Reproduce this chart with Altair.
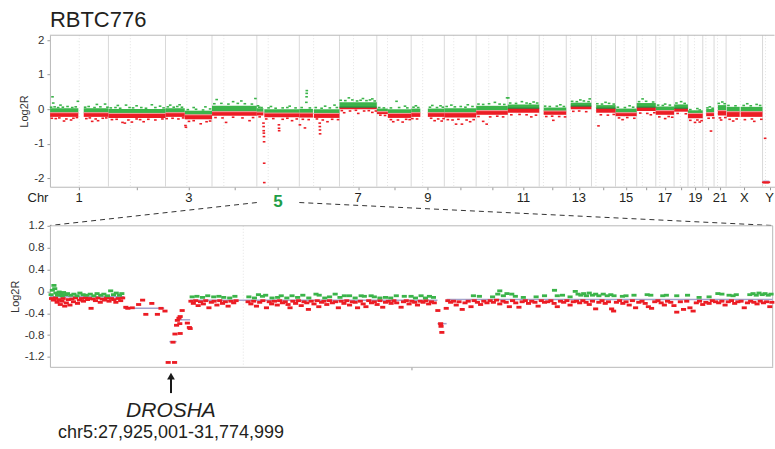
import altair as alt
import pandas as pd

FONT = "Liberation Sans"
GREEN = "#3bb44a"
RED = "#ec1c24"
DARK = "#231f20"

# ---------------- genome layout (hg19, Mb) ----------------
chrom_names = ["1", "2", "3", "4", "5", "6", "7", "8", "9", "10", "11", "12",
               "13", "14", "15", "16", "17", "18", "19", "20", "21", "22", "X", "Y"]
chrom_len = [249.25, 243.20, 198.02, 191.15, 180.92, 171.12, 159.14, 146.36,
             141.21, 135.53, 135.01, 133.85, 115.17, 107.35, 102.53, 90.35,
             81.20, 78.08, 59.13, 63.03, 48.13, 51.30, 155.27, 59.37]
centromere = [125.0, 93.3, 91.0, 50.4, 48.4, 61.0, 59.9, 45.6, 49.0, 40.2,
              53.7, 35.8, 17.9, 17.6, 19.0, 36.6, 24.0, 17.2, 26.5, 27.5,
              13.2, 14.7, 60.6, 12.5]

# axis labels and the chromosome at whose centre each one sits (as drawn in the reference)
label_text = ["1", "3", "5", "7", "9", "11", "13", "15", "17", "19", "21", "X", "Y"]
label_at = ["1", "3", "5", "7", "9", "12", "14", "16", "18", "20", "22", "X", "Y"]

# ---------------- genome-wide segments: (chrom, start, end, mean, dense-band top, dense-band bottom) ----------------
top_segments = [
    ("1", 0.8, 121, -0.10, 0.03, -0.22), ("1", 144, 249, -0.10, 0.03, -0.22),
    ("2", 0.1, 243, -0.12, 0.01, -0.25),
    ("3", 0.1, 82, -0.10, 0.03, -0.22), ("3", 82, 198, -0.16, -0.04, -0.29),
    ("4", 0.1, 191, -0.07, 0.10, -0.19),
    ("5", 0.1, 27.9, -0.08, 0.03, -0.18), ("5", 31.8, 181, -0.11, 0.00, -0.23),
    ("6", 0.2, 58, -0.11, 0.01, -0.24), ("6", 62, 171, -0.12, 0.00, -0.25),
    ("7", 0.1, 159, 0.06, 0.20, 0.00),
    ("8", 0.2, 47, -0.07, 0.02, -0.14), ("8", 47, 146, -0.12, 0.00, -0.25),
    ("9", 0.2, 39, -0.10, 0.02, -0.22), ("9", 71, 141, -0.10, 0.02, -0.22),
    ("10", 0.1, 135.5, -0.10, 0.03, -0.24),
    ("11", 0.2, 135, -0.04, 0.10, -0.16),
    ("12", 0.1, 133.8, 0.03, 0.14, -0.10),
    ("13", 19, 115, -0.05, 0.05, -0.16),
    ("14", 19, 107, 0.09, 0.19, 0.00),
    ("15", 20, 102.5, 0.03, 0.12, -0.10),
    ("16", 0.1, 90.3, -0.10, 0.02, -0.20),
    ("17", 0.1, 81.2, 0.06, 0.18, -0.05),
    ("18", 0.1, 78, -0.04, 0.08, -0.16),
    ("19", 0.2, 59, 0.03, 0.14, -0.07),
    ("20", 0.1, 63, -0.12, -0.03, -0.26),
    ("21", 14.5, 48, -0.10, 0.01, -0.20),
    ("22", 16, 51.2, -0.04, 0.12, -0.18),
    ("X", 2.7, 58, -0.07, 0.07, -0.22), ("X", 62, 155, -0.07, 0.07, -0.22),
    ("Y", 2.7, 28.8, -2.08, -2.08, -2.14),
]

# scattered probes around / outside the dense bands: (chrom, pos, log2R)
top_gain_pts = [
    ("1", 11, 0.36), ("1", 14, 0.18), ("1", 45, 0.12), ("1", 119, 0.23), ("1", 200, 0.14), ("1", 235, 0.15),
    ("1", 5, 0.06), ("1", 20, 0.07), ("1", 35, 0.05), ("1", 55, 0.06), ("1", 75, 0.08), ("1", 95, 0.05),
    ("1", 110, 0.07), ("1", 150, 0.06), ("1", 165, 0.08), ("1", 190, 0.05), ("1", 215, 0.07), ("1", 245, 0.06),
    ("2", 40, 0.11), ("2", 75, 0.12), ("2", 120, 0.10), ("2", 185, 0.13), ("2", 220, 0.09),
    ("2", 10, 0.04), ("2", 30, 0.05), ("2", 50, 0.03), ("2", 90, 0.05), ("2", 105, 0.04), ("2", 140, 0.05),
    ("2", 160, 0.03), ("2", 200, 0.05), ("2", 235, 0.04),
    ("3", 20, 0.12), ("3", 60, 0.13), ("3", 120, 0.05), ("3", 170, 0.07),
    ("3", 10, 0.07), ("3", 35, 0.06), ("3", 50, 0.08), ("3", 70, 0.06), ("3", 95, -0.01), ("3", 130, 0.00),
    ("3", 160, -0.02), ("3", 190, 0.01),
    ("4", 20, 0.28), ("4", 90, 0.22), ("4", 125, 0.24), ("4", 185, 0.31),
    ("4", 10, 0.16), ("4", 40, 0.17), ("4", 70, 0.15), ("4", 110, 0.17), ("4", 140, 0.16), ("4", 170, 0.15),
    ("5", 5, 0.10), ("5", 60, 0.08), ("5", 140, 0.09),
    ("5", 10, 0.06), ("5", 20, 0.05), ("5", 50, 0.04), ("5", 80, 0.03), ("5", 110, 0.04), ("5", 130, 0.05),
    ("5", 165, 0.04),
    ("6", 30, 0.20), ("6", 31, 0.36), ("6", 31.5, 0.46), ("6", 32, 0.54), ("6", 110, 0.09), ("6", 150, 0.12),
    ("6", 10, 0.05), ("6", 45, 0.04), ("6", 70, 0.05), ("6", 95, 0.03), ("6", 130, 0.04), ("6", 160, 0.05),
    ("7", 40, 0.33), ("7", 100, 0.31), ("7", 140, 0.30),
    ("7", 5, 0.26), ("7", 25, 0.25), ("7", 55, 0.27), ("7", 75, 0.24), ("7", 90, 0.26), ("7", 115, 0.25),
    ("7", 130, 0.27), ("7", 150, 0.24),
    ("8", 84, 0.23), ("8", 120, 0.09),
    ("8", 10, 0.05), ("8", 30, 0.04), ("8", 60, 0.04), ("8", 95, 0.05), ("8", 130, 0.04),
    ("9", 20, 0.10), ("9", 90, 0.11), ("9", 125, 0.10),
    ("9", 10, 0.06), ("9", 30, 0.05), ("9", 80, 0.06), ("9", 110, 0.05), ("9", 135, 0.06),
    ("10", 30, 0.12), ("10", 100, 0.13),
    ("10", 10, 0.08), ("10", 45, 0.07), ("10", 70, 0.08), ("10", 90, 0.06), ("10", 120, 0.08),
    ("11", 80, 0.20), ("11", 132, 0.33),
    ("11", 10, 0.15), ("11", 30, 0.14), ("11", 55, 0.16), ("11", 100, 0.15), ("11", 120, 0.14),
    ("12", 2, 0.33), ("12", 60, 0.22), ("12", 110, 0.21),
    ("12", 10, 0.18), ("12", 35, 0.17), ("12", 80, 0.18), ("12", 95, 0.16), ("12", 125, 0.18),
    ("13", 90, 0.13), ("13", 25, 0.09), ("13", 45, 0.08), ("13", 75, 0.09), ("13", 105, 0.08),
    ("14", 60, 0.27), ("14", 100, 0.30), ("14", 25, 0.23), ("14", 45, 0.22), ("14", 75, 0.24), ("14", 95, 0.22),
    ("15", 60, 0.20), ("15", 25, 0.16), ("15", 45, 0.15), ("15", 75, 0.17), ("15", 95, 0.15),
    ("16", 60, 0.10), ("16", 10, 0.06), ("16", 40, 0.05), ("16", 75, 0.06),
    ("17", 25, 0.30), ("17", 10, 0.22), ("17", 40, 0.23), ("17", 70, 0.21),
    ("18", 40, 0.15), ("18", 10, 0.12), ("18", 30, 0.11), ("18", 60, 0.12),
    ("19", 30, 0.22), ("19", 10, 0.18), ("19", 45, 0.17),
    ("20", 40, 0.02), ("20", 10, -0.01), ("20", 50, -0.02),
    ("21", 30, 0.07), ("21", 20, 0.04), ("21", 42, 0.03),
    ("22", 35, 0.21), ("22", 20, 0.17), ("22", 45, 0.16),
    ("X", 90, 0.16), ("X", 130, 0.14), ("X", 10, 0.11), ("X", 40, 0.10), ("X", 75, 0.11), ("X", 105, 0.10),
    ("X", 145, 0.11),
]
top_loss_pts = [
    ("1", 60, -0.34), ("1", 90, -0.31), ("1", 180, -0.35), ("1", 205, -0.33),
    ("1", 8, -0.26), ("1", 25, -0.27), ("1", 40, -0.25), ("1", 70, -0.28), ("1", 100, -0.26), ("1", 115, -0.24),
    ("1", 155, -0.27), ("1", 170, -0.25), ("1", 195, -0.28), ("1", 225, -0.26), ("1", 240, -0.25),
    ("2", 60, -0.38), ("2", 70, -0.40), ("2", 100, -0.37), ("2", 150, -0.36),
    ("2", 15, -0.30), ("2", 35, -0.29), ("2", 85, -0.31), ("2", 120, -0.28), ("2", 135, -0.30),
    ("2", 170, -0.29), ("2", 200, -0.31), ("2", 230, -0.28),
    ("3", 85, -0.47), ("3", 87, -0.52), ("3", 150, -0.42),
    ("3", 5, -0.27), ("3", 30, -0.26), ("3", 55, -0.28), ("3", 75, -0.25), ("3", 100, -0.35),
    ("3", 120, -0.33), ("3", 175, -0.36), ("3", 190, -0.34),
    ("4", 60, -0.38), ("4", 160, -0.33),
    ("4", 15, -0.24), ("4", 45, -0.25), ("4", 90, -0.23), ("4", 130, -0.25), ("4", 175, -0.24),
    ("5", 28.2, -0.40), ("5", 28.8, -0.50), ("5", 29.3, -0.62), ("5", 29.8, -0.69),
    ("5", 30.3, -0.79), ("5", 30.8, -0.94), ("5", 31.2, -1.56), ("5", 31.6, -2.12),
    ("5", 94, -0.45), ("5", 94.5, -0.55), ("5", 95, -0.62), ("5", 150, -0.33),
    ("5", 12, -0.22), ("5", 40, -0.28), ("5", 70, -0.27), ("5", 110, -0.29), ("5", 130, -0.26), ("5", 170, -0.28),
    ("6", 2.6, -0.45), ("6", 24, -0.54), ("6", 87, -0.40), ("6", 87.5, -0.50),
    ("6", 88, -0.60), ("6", 88.5, -0.71), ("6", 120, -0.36),
    ("6", 15, -0.29), ("6", 40, -0.30), ("6", 75, -0.28), ("6", 100, -0.31), ("6", 140, -0.29), ("6", 165, -0.30),
    ("7", 20, -0.10), ("7", 80, -0.12), ("7", 140, -0.09),
    ("7", 10, -0.04), ("7", 45, -0.05), ("7", 70, -0.03), ("7", 105, -0.05), ("7", 125, -0.04), ("7", 155, -0.05),
    ("8", 70, -0.36), ("8", 110, -0.37),
    ("8", 15, -0.17), ("8", 35, -0.18), ("8", 60, -0.30), ("8", 90, -0.31), ("8", 125, -0.29), ("8", 140, -0.30),
    ("9", 100, -0.33), ("9", 130, -0.34),
    ("9", 5, -0.27), ("9", 25, -0.28), ("9", 85, -0.26), ("9", 115, -0.28), ("9", 138, -0.27),
    ("10", 50, -0.43), ("10", 75, -0.43), ("10", 110, -0.36),
    ("10", 15, -0.30), ("10", 35, -0.31), ("10", 60, -0.29), ("10", 95, -0.31), ("10", 125, -0.30),
    ("11", 30, -0.35), ("11", 45, -0.43),
    ("11", 10, -0.21), ("11", 60, -0.22), ("11", 90, -0.20), ("11", 115, -0.22),
    ("12", 100, -0.22), ("12", 15, -0.16), ("12", 50, -0.15), ("12", 80, -0.16), ("12", 120, -0.17),
    ("13", 60, -0.32), ("13", 30, -0.21), ("13", 55, -0.20), ("13", 85, -0.21), ("13", 110, -0.22),
    ("14", 30, -0.06), ("14", 55, -0.05), ("14", 85, -0.07),
    ("15", 30, -0.48), ("15", 40, -0.16), ("15", 70, -0.17), ("15", 95, -0.15),
    ("16", 30, -0.30), ("16", 15, -0.25), ("16", 50, -0.24), ("16", 80, -0.26),
    ("17", 60, -0.16), ("17", 15, -0.11), ("17", 45, -0.12), ("17", 75, -0.10),
    ("18", 40, -0.27), ("18", 15, -0.22), ("18", 55, -0.21), ("18", 70, -0.23),
    ("19", 15, -0.12), ("19", 50, -0.13),
    ("20", 30, -0.38), ("20", 50, -0.37), ("20", 10, -0.32), ("20", 40, -0.31), ("20", 58, -0.33),
    ("21", 35, -0.63), ("21", 25, -0.26), ("21", 45, -0.25),
    ("22", 30, -0.31), ("22", 25, -0.25), ("22", 48, -0.24),
    ("X", 30, -0.34), ("X", 120, -0.35), ("X", 15, -0.29), ("X", 45, -0.28), ("X", 80, -0.30),
    ("X", 110, -0.28), ("X", 150, -0.29),
    ("Y", 11, -0.84), ("Y", 3, -2.11), ("Y", 7, -2.12), ("Y", 11, -2.11), ("Y", 15, -2.12),
    ("Y", 19, -2.11), ("Y", 23, -2.12), ("Y", 27, -2.11),
]

# ---------------- chromosome 5 detail ----------------
chr5_segments = [(0.0, 18.5, -0.10), (18.5, 28.6, -0.31), (29.9, 31.7, -0.92),
                 (31.7, 35.1, -0.52), (35.1, 97.0, -0.16), (97.0, 99.3, -0.59),
                 (99.3, 180.9, -0.15)]

chr5_gain = [
    (0.3, -0.06), (0.6, 0.02), (1.0, 0.11), (1.2, 0.05), (1.5, -0.03), (1.9, -0.07), (2.3, -0.01),
    (2.7, -0.05), (3.1, -0.08), (3.4, -0.02), (3.9, -0.06), (4.4, -0.04), (5.2, -0.07), (6.0, -0.05),
    (6.8, -0.08), (7.5, -0.03), (8.3, -0.06), (9.2, -0.07), (10.1, -0.05), (11.0, -0.08), (11.8, -0.04),
    (12.7, -0.07), (13.5, -0.05), (14.4, -0.08), (15.2, 0.01), (15.9, -0.06), (16.6, -0.03), (17.4, -0.07),
    (18.0, -0.04),
    (35.6, -0.10), (36.8, -0.09), (38.2, -0.11), (39.5, -0.08), (41.0, -0.10), (42.3, -0.09), (43.5, -0.11),
    (45.0, -0.12), (46.3, -0.09), (49.8, -0.10), (51.2, -0.12), (52.2, -0.06), (53.2, -0.09), (54.0, -0.07),
    (55.6, -0.12), (57.0, -0.11), (57.9, -0.08), (59.3, -0.12), (60.6, -0.08), (62.0, -0.11), (63.3, -0.07),
    (64.8, -0.12), (66.6, -0.05), (67.4, -0.07), (68.8, -0.12), (70.0, -0.10), (71.4, -0.05), (72.6, -0.11),
    (73.7, -0.08), (75.0, -0.08), (76.4, -0.12), (77.9, -0.08), (78.7, -0.09), (80.4, -0.08), (81.2, -0.10),
    (82.6, -0.12), (84.0, -0.11), (85.3, -0.12), (86.7, -0.08), (88.7, -0.09), (90.4, -0.09), (91.5, -0.12),
    (92.9, -0.08), (94.0, -0.12), (95.0, -0.09), (96.0, -0.11),
    (106.0, -0.08), (107.5, -0.09), (110.8, -0.10), (112.1, -0.05), (112.6, 0.01), (113.5, -0.08),
    (114.4, -0.04), (115.6, -0.05), (116.5, -0.09), (118.5, -0.11), (121.7, -0.10), (123.8, -0.08),
    (126.3, 0.02), (127.0, -0.08), (128.3, -0.07), (130.2, -0.10), (131.5, 0.00), (132.2, -0.05),
    (132.9, -0.07), (133.6, -0.04), (134.3, -0.08), (135.0, -0.03), (135.8, -0.07), (136.6, -0.05),
    (137.4, -0.08), (138.5, -0.05), (139.5, -0.08), (140.4, -0.06), (141.2, -0.08), (143.3, -0.09),
    (144.2, -0.08), (146.2, -0.07), (149.5, -0.06), (150.4, -0.07), (153.4, -0.08), (154.3, -0.07),
    (156.9, -0.08), (159.6, -0.07), (162.5, -0.11), (165.0, -0.10), (167.2, -0.04), (168.2, -0.05),
    (170.0, -0.07), (171.0, -0.08), (171.8, -0.06), (175.2, -0.06), (176.0, -0.04), (176.8, -0.07),
    (177.5, -0.03), (178.3, -0.06), (179.0, -0.04), (179.8, -0.07), (180.5, -0.05),
]

chr5_loss = [
    (0.4, -0.13), (0.9, -0.16), (1.4, -0.12), (1.8, -0.20), (2.2, -0.15), (2.6, -0.24), (3.0, -0.18),
    (3.3, -0.13), (3.7, -0.27), (4.1, -0.21), (4.6, -0.15), (5.0, -0.25), (5.5, -0.14), (5.9, -0.19),
    (6.4, -0.12), (6.9, -0.22), (7.4, -0.16), (7.9, -0.13), (8.4, -0.18), (8.9, -0.12), (9.4, -0.15),
    (9.9, -0.13), (10.3, -0.31), (10.8, -0.14), (11.4, -0.17), (12.0, -0.12), (12.6, -0.20), (13.1, -0.14),
    (13.7, -0.16), (14.2, -0.12), (14.8, -0.18), (15.4, -0.13), (16.0, -0.15), (16.5, -0.20), (17.1, -0.13),
    (17.7, -0.17), (18.2, -0.12),
    (19.0, -0.29), (19.5, -0.31), (20.6, -0.30), (22.2, -0.24), (23.2, -0.16), (24.0, -0.42), (25.5, -0.22),
    (26.9, -0.42), (27.8, -0.31), (28.8, -0.36),
    (29.6, -1.30), (31.2, -1.30), (30.8, -0.93), (31.3, -0.78), (32.6, -0.77), (31.7, -0.62), (32.5, -0.59),
    (31.9, -0.53), (32.3, -0.49), (32.6, -0.46), (33.1, -0.35), (34.4, -0.58), (34.9, -0.66), (35.1, -0.68),
    (35.3, -0.18), (35.9, -0.22), (36.5, -0.17), (37.1, -0.26), (37.7, -0.19), (38.4, -0.23), (39.0, -0.17),
    (39.8, -0.30), (40.4, -0.20), (41.1, -0.18), (41.8, -0.25), (42.5, -0.17), (43.2, -0.22), (43.9, -0.19),
    (44.6, -0.27), (45.3, -0.18), (46.0, -0.21), (46.6, -0.17),
    (49.6, -0.19), (50.3, -0.23), (51.0, -0.18), (51.7, -0.27), (52.5, -0.20), (53.3, -0.17), (54.2, -0.30),
    (54.9, -0.19), (55.5, -0.23), (56.2, -0.18), (56.9, -0.25), (57.5, -0.17), (58.2, -0.21), (58.9, -0.19),
    (59.6, -0.24), (60.1, -0.30), (60.8, -0.18), (61.5, -0.22), (62.2, -0.17), (62.9, -0.26), (63.6, -0.19),
    (64.3, -0.21), (64.7, -0.33), (65.4, -0.18), (66.1, -0.23), (66.9, -0.17), (67.3, -0.28), (68.0, -0.20),
    (68.6, -0.18), (69.3, -0.24), (70.0, -0.17), (70.7, -0.21), (71.5, -0.19), (72.2, -0.30), (72.9, -0.18),
    (73.6, -0.22), (74.3, -0.17), (75.0, -0.25), (75.7, -0.19), (76.4, -0.20), (77.0, -0.30), (77.7, -0.18),
    (78.4, -0.23), (79.1, -0.28), (79.8, -0.17), (80.5, -0.21), (81.2, -0.19), (81.9, -0.24), (82.6, -0.17),
    (83.3, -0.29), (84.0, -0.20), (84.7, -0.18), (85.4, -0.22), (86.1, -0.17), (86.8, -0.21), (87.9, -0.29),
    (88.5, -0.19), (89.2, -0.17), (89.9, -0.23), (90.6, -0.18), (91.3, -0.20), (92.0, -0.25), (92.7, -0.18),
    (93.4, -0.20), (94.1, -0.17), (94.8, -0.23), (95.5, -0.19), (96.2, -0.21),
    (97.1, -0.35), (97.8, -0.59), (97.9, -0.64), (98.1, -0.75), (99.2, -0.31),
    (99.6, -0.17), (100.3, -0.20), (101.0, -0.18), (101.7, -0.25), (102.4, -0.19), (103.2, -0.33),
    (103.9, -0.21), (104.7, -0.18), (105.4, -0.28), (106.2, -0.17), (107.0, -0.20), (107.8, -0.24),
    (108.6, -0.18), (109.4, -0.21), (110.2, -0.17), (111.0, -0.20), (111.8, -0.16), (112.6, -0.23),
    (113.4, -0.18), (114.2, -0.20), (115.0, -0.28), (115.8, -0.17), (116.6, -0.21), (117.4, -0.29),
    (118.2, -0.19), (119.0, -0.17), (119.8, -0.22), (120.6, -0.18), (121.4, -0.20), (122.2, -0.27),
    (123.0, -0.17), (123.8, -0.20), (124.6, -0.19), (125.4, -0.17), (126.2, -0.22), (127.0, -0.28),
    (127.8, -0.18), (128.6, -0.20), (129.4, -0.17), (130.2, -0.25), (131.0, -0.19), (131.8, -0.18),
    (132.6, -0.21), (133.4, -0.17), (134.2, -0.20), (135.0, -0.24), (135.8, -0.18), (136.6, -0.32),
    (137.4, -0.20), (138.2, -0.17), (139.0, -0.22), (139.8, -0.19), (140.6, -0.32), (141.1, -0.36),
    (141.8, -0.20), (142.6, -0.17), (143.4, -0.22), (144.2, -0.19), (145.0, -0.25), (145.8, -0.17),
    (146.6, -0.30), (147.4, -0.20), (148.2, -0.18), (149.0, -0.22), (149.8, -0.28), (150.6, -0.31),
    (151.4, -0.19), (152.2, -0.17), (153.0, -0.21), (153.8, -0.25), (154.6, -0.18), (155.4, -0.20),
    (156.2, -0.26), (156.9, -0.38), (157.8, -0.19), (158.6, -0.33), (159.4, -0.18), (160.2, -0.30),
    (161.0, -0.36), (161.8, -0.21), (162.6, -0.18), (163.4, -0.24), (164.2, -0.20), (165.0, -0.22),
    (165.8, -0.17), (166.6, -0.19), (167.4, -0.21), (168.2, -0.18), (169.0, -0.25), (169.8, -0.19),
    (170.6, -0.17), (171.4, -0.22), (172.2, -0.19), (173.0, -0.18), (173.8, -0.30), (174.6, -0.21),
    (175.4, -0.18), (176.2, -0.20), (177.0, -0.23), (177.8, -0.18), (178.6, -0.21), (179.4, -0.19),
    (180.2, -0.28), (180.7, -0.20),
]

sample_name = "RBTC776"
zoom_chrom = "5"
gene_name = "DROSHA"
gene_pos = 30.3
region_label = "chr5:27,925,001-31,774,999"

top_yticks = [-2, -1, 0, 1, 2]
bot_yticks = [-1.2, -0.8, -0.4, 0, 0.4, 0.8, 1.2]

# ---------------- sizes ----------------
W_T, H_T = 725.5, 151.7
W_B, H_B = 723.7, 141.2
SP = 38.8
X_MAX = 3087.2
Y_T = [-2.24, 2.14]
Y_B = [-1.38, 1.2]
FRAME = "#b8b8b8"
DASH_TOP = "M-1,-0.6L1,-0.6L1,0.6L-1,0.6Z"
DASH_BOT = "M-1,-0.55L1,-0.55L1,0.55L-1,0.55Z"

# ---------------- tables ----------------
offset = {}
acc = 0.0
for n, L in zip(chrom_names, chrom_len):
    offset[n] = acc
    acc += L

chrom_df = pd.DataFrame({
    "name": chrom_names,
    "start": [offset[n] for n in chrom_names],
    "end": [offset[n] + L for n, L in zip(chrom_names, chrom_len)],
    "cen": [offset[n] + c for n, c in zip(chrom_names, centromere)],
})
chrom_df["mid"] = (chrom_df["start"] + chrom_df["end"]) / 2
centers = chrom_df["mid"].tolist()
mid_of = dict(zip(chrom_df["name"], chrom_df["mid"]))
bound_df = chrom_df[chrom_df["end"] < X_MAX]

seg_df = pd.DataFrame(top_segments, columns=["chrom", "s", "e", "mean", "hi", "lo"])
seg_df["gs"] = seg_df["chrom"].map(offset) + seg_df["s"]
seg_df["ge"] = seg_df["chrom"].map(offset) + seg_df["e"]
seg_up = seg_df[seg_df["mean"] > 0]
seg_dn = seg_df[(seg_df["mean"] <= 0) & (seg_df["mean"] > -2)]
seg_y = seg_df[seg_df["mean"] <= -2]

gain_df = pd.DataFrame(top_gain_pts, columns=["chrom", "pos", "val"])
gain_df["g"] = gain_df["chrom"].map(offset) + gain_df["pos"]
loss_df = pd.DataFrame(top_loss_pts, columns=["chrom", "pos", "val"])
loss_df["g"] = loss_df["chrom"].map(offset) + loss_df["pos"]

lab_df = pd.DataFrame({"t": label_text, "c": [mid_of[a] for a in label_at]})
lab_plain = lab_df[lab_df["t"] != zoom_chrom]
lab_zoom = lab_df[lab_df["t"] == zoom_chrom]

zi = chrom_names.index(zoom_chrom)
z_start = offset[zoom_chrom]
z_len = chrom_len[zi]
z_end = z_start + z_len
z_cen = centromere[zi]

one = pd.DataFrame({"a": [0]})

# shared scales and axes (every layer carries the same axis so the layers merge cleanly)
xs = alt.Scale(domain=[0, X_MAX], nice=False, zero=False)
ys = alt.Scale(domain=Y_T, nice=False, zero=False)
xb = alt.Scale(domain=[0, z_len], nice=False, zero=False)
yb = alt.Scale(domain=Y_B, nice=False, zero=False)

AX_XT = alt.Axis(values=centers, labels=False, tickSize=3, grid=False, title=None, domainColor=FRAME)
AX_YT = alt.Axis(values=top_yticks, title="Log2R", labelExpr="datum.value + ''", tickSize=3, grid=False,
                 titlePadding=4, labelOverlap=False)
AX_XB = alt.Axis(values=[z_len / 2], labels=False, tickSize=3, grid=False, title=None, domainColor=FRAME)
AX_YB = alt.Axis(values=bot_yticks, title="Log2R", labelExpr="datum.value + ''", tickSize=3, grid=False,
                 titlePadding=4, labelOverlap=False)


def XT(f):
    return alt.X(f, scale=xs, axis=AX_XT)


def YT(f):
    return alt.Y(f, scale=ys, axis=AX_YT)


def XB(f):
    return alt.X(f, scale=xb, axis=AX_XB)


def YB(f):
    return alt.Y(f, scale=yb, axis=AX_YB)


# ---------------- top (genome) panel ----------------
bounds = alt.Chart(one).mark_rect(opacity=0).encode(
    x=alt.value(-49.5), x2=alt.value(W_T), y=alt.value(-35), y2=alt.value(449 - 35))

top_border = alt.Chart(one).mark_rule(color=FRAME, strokeWidth=1).encode(
    x=alt.value(0), x2=alt.value(W_T), y=alt.value(0))

boundaries = alt.Chart(bound_df).mark_rule(color="#d9d9d9", strokeWidth=1).encode(
    x=XT("end:Q"), y=alt.value(0), y2=alt.value(H_T))

cens = alt.Chart(chrom_df[chrom_df["cen"] < X_MAX]).mark_rule(
    color="#e3e3e3", strokeWidth=1, strokeDash=[1, 2]).encode(
    x=XT("cen:Q"), y=alt.value(0), y2=alt.value(H_T))

green_band = alt.Chart(seg_df).mark_rect(color=GREEN).encode(
    x=XT("gs:Q"), x2="ge:Q", y=YT("mean:Q"), y2="hi:Q")

red_band = alt.Chart(seg_df).mark_rect(color=RED).encode(
    x=XT("gs:Q"), x2="ge:Q", y=YT("lo:Q"), y2="mean:Q")

mean_up = alt.Chart(seg_up).mark_rule(strokeWidth=1, color="#1f7a34").encode(
    x=XT("gs:Q"), x2="ge:Q", y=YT("mean:Q"))
mean_dn = alt.Chart(seg_dn).mark_rule(strokeWidth=1, color="#f59a9a").encode(
    x=XT("gs:Q"), x2="ge:Q", y=YT("mean:Q"))
mean_y = alt.Chart(seg_y).mark_rule(strokeWidth=1.5, color="#b7a9d6").encode(
    x=XT("gs:Q"), x2="ge:Q", y=YT("mean:Q"))

top_gain = alt.Chart(gain_df).mark_point(shape=DASH_TOP, filled=True, size=7, opacity=1, color=GREEN).encode(
    x=XT("g:Q"), y=YT("val:Q"))
top_loss = alt.Chart(loss_df).mark_point(shape=DASH_TOP, filled=True, size=7, opacity=1, color=RED).encode(
    x=XT("g:Q"), y=YT("val:Q"))

labels = alt.Chart(lab_plain).mark_text(font=FONT, fontSize=13, color=DARK, baseline="alphabetic").encode(
    x=XT("c:Q"), y=alt.value(166.7), text="t:N")

label5 = alt.Chart(lab_zoom).mark_text(font=FONT, fontSize=17, fontWeight="bold", color="#1f9e48",
                                       baseline="alphabetic").encode(
    x=XT("c:Q"), y=alt.value(172.3), text="t:N")

chr_lab = alt.Chart(one).mark_text(font=FONT, fontSize=13, color=DARK, align="right",
                                   baseline="alphabetic", text="Chr").encode(
    x=alt.value(-1.5), y=alt.value(166.7))

title = alt.Chart(one).mark_text(font=FONT, fontSize=22, color=DARK, align="left",
                                 baseline="alphabetic", text=sample_name).encode(
    x=alt.value(0), y=alt.value(-8.5))

conn_left = alt.Chart(pd.DataFrame({"x": [z_start]})).mark_rule(
    color="#333333", strokeWidth=1, strokeDash=[5, 4]).encode(
    x=XT("x:Q"), x2=alt.value(0), y=alt.value(167.5), y2=alt.value(H_T + SP))

conn_right = alt.Chart(pd.DataFrame({"x": [z_end]})).mark_rule(
    color="#333333", strokeWidth=1, strokeDash=[5, 4]).encode(
    x=XT("x:Q"), x2=alt.value(W_B), y=alt.value(167.5), y2=alt.value(H_T + SP))

top = alt.layer(bounds, cens, boundaries, top_border, green_band, red_band, mean_up, mean_dn, mean_y,
                top_gain, top_loss, labels, label5, chr_lab, title, conn_left, conn_right
                ).properties(width=W_T, height=H_T)

# ---------------- bottom (chr5) panel ----------------
bseg = pd.DataFrame(chr5_segments, columns=["s", "e", "mean"])
bgain = pd.DataFrame(chr5_gain, columns=["pos", "val"])
bloss = pd.DataFrame(chr5_loss, columns=["pos", "val"])

b_frame_top = alt.Chart(one).mark_rule(color=FRAME).encode(x=alt.value(0), x2=alt.value(W_B), y=alt.value(0))
b_frame_right = alt.Chart(one).mark_rule(color=FRAME).encode(x=alt.value(W_B), y=alt.value(0), y2=alt.value(H_B))

b_cen = alt.Chart(pd.DataFrame({"c": [z_cen]})).mark_rule(color="#e3e3e3", strokeDash=[1, 2]).encode(
    x=XB("c:Q"), y=alt.value(0), y2=alt.value(H_B))

b_seg = alt.Chart(bseg).mark_rule(color="#a3a2cc", strokeWidth=1.5).encode(
    x=XB("s:Q"), x2="e:Q", y=YB("mean:Q"))

b_gain = alt.Chart(bgain).mark_point(shape=DASH_BOT, filled=True, size=26, opacity=1, color=GREEN).encode(
    x=XB("pos:Q"), y=YB("val:Q"))
b_loss = alt.Chart(bloss).mark_point(shape=DASH_BOT, filled=True, size=26, opacity=1, color=RED).encode(
    x=XB("pos:Q"), y=YB("val:Q"))

gene_df = pd.DataFrame({"p": [gene_pos]})
arrow_shaft = alt.Chart(gene_df).mark_rule(color="#1a1a1a", strokeWidth=2).encode(
    x=XB("p:Q"), y=alt.value(152), y2=alt.value(167.5))
arrow_head = alt.Chart(gene_df).mark_point(shape="triangle-up", filled=True, size=60, color="#1a1a1a",
                                           opacity=1).encode(
    x=XB("p:Q"), y=alt.value(150.5))
gene_txt = alt.Chart(gene_df).mark_text(font=FONT, fontSize=21, fontStyle="italic", color=DARK,
                                        baseline="alphabetic", text=gene_name).encode(
    x=XB("p:Q"), y=alt.value(191.2))
region_txt = alt.Chart(gene_df).mark_text(font=FONT, fontSize=18, color=DARK,
                                          baseline="alphabetic", text=region_label).encode(
    x=XB("p:Q"), y=alt.value(212.8))

bottom = alt.layer(b_cen, b_frame_top, b_frame_right, b_seg, b_loss, b_gain, arrow_shaft, arrow_head,
                   gene_txt, region_txt).properties(width=W_B, height=H_B)

chart = alt.vconcat(top, bottom, spacing=SP, bounds="flush").properties(padding=0).configure_view(
    strokeWidth=0).configure_axis(
    labelFont=FONT, titleFont=FONT, labelFontSize=11.5, titleFontSize=11, labelColor="#333333",
    titleColor="#333333", titleFontWeight="normal", tickColor="#999999", domainColor=FRAME, labelPadding=3)

chart.save("out.html", embed_options={"renderer": "svg", "actions": False})
